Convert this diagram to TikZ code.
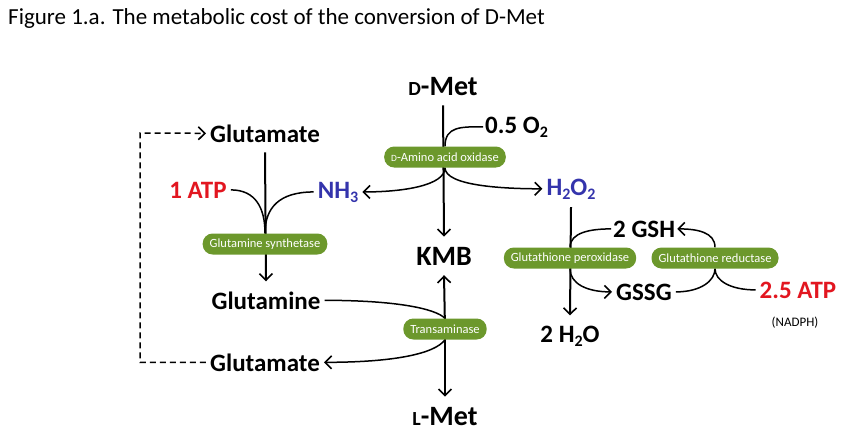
\documentclass[tikz,border=0pt]{standalone}
\usepackage{fontspec}
\setmainfont{Carlito}
\usetikzlibrary{arrows.meta, positioning, backgrounds}

\definecolor{enzgreen}{RGB}{108,152,44}
\definecolor{molblue}{RGB}{52,52,172}
\definecolor{atpred}{RGB}{226,22,32}

\newcommand{\lowsub}[1]{\raisebox{-4pt}{\fontsize{16}{16}\selectfont #1}}

\tikzset{
  mol/.style={font=\fontsize{25}{25}\selectfont\bfseries, inner xsep=4pt, inner ysep=10pt},
  bigmol/.style={mol, font=\fontsize{28}{28}\selectfont\bfseries},
  enz/.style={fill=enzgreen, text=white, rounded corners=10pt, minimum height=21pt,
    inner xsep=7pt, inner ysep=0pt, font=\fontsize{12.5}{12.5}\selectfont},
  rxn/.style={line width=2pt},
  side/.style={line width=1.5pt},
  tip/.style={-{Straight Barb[length=6.5pt,width=13pt,line width=1.6pt]}},
  recycle/.style={line width=1.5pt, dash pattern=on 6pt off 4pt}
}

\begin{document}
\begin{tikzpicture}[x=1pt,y=-1pt]
			\useasboundingbox (0,0) rectangle (845,431);
			\node[anchor=base west, inner sep=0pt, font=\fontsize{23}{23}\selectfont] (title) at (8,24)
				{Figure 1.a. The metabolic cost of the conversion of D-Met};

			% main route
			\node[bigmol, anchor=base] (dmet) at (443,95) {{\fontsize{20}{20}\selectfont D}-Met};
			\node[bigmol, anchor=base] (kmb) at (444,265) {KMB};
			\node[bigmol, anchor=base] (lmet) at (445,425) {{\fontsize{20}{20}\selectfont L}-Met};
			\node[enz] (daao) at (445,157) {{\fontsize{9.5}{9.5}\selectfont D}-Amino acid oxidase};
			\node[enz] (transam) at (445,329) {Transaminase};
			\node[mol, anchor=base west, inner xsep=2pt, inner ysep=0pt] (otwo) at (483,133) {0.5 O\lowsub{2}};
			\node[mol, anchor=base, inner ysep=0pt, text=molblue] (nhthree) at (338,198) {NH\lowsub{3}};
			\node[mol, anchor=base, inner ysep=8pt, text=molblue] (hoo) at (571,195) {H\lowsub{2}O\lowsub{2}};

			% glutamine cycle
			\node[mol, anchor=base] (gluin) at (265,142) {Glutamate};
			\node[mol, anchor=base, inner ysep=2pt, text=atpred] (atpone) at (198,198) {1 ATP};
			\node[enz] (glnsyn) at (265,244) {Glutamine synthetase};
			\node[mol, anchor=base] (gln) at (266,309) {Glutamine};
			\node[mol, anchor=base] (gluout) at (265,371) {Glutamate};
			\coordinate (loop) at (140,133);

			% glutathione
			\node[enz] (gpx) at (570,258) {Glutathione peroxidase};
			\node[enz] (gr) at (715,258) {Glutathione reductase};
			\node[mol, anchor=base west, inner xsep=2pt, inner ysep=2pt] (gsh) at (611,237) {2 GSH};
			\node[mol, anchor=base west, inner ysep=2pt] (gssg) at (612,300) {GSSG};
			\node[mol, anchor=base, text=atpred] (atptwo) at (798,298) {2.5 ATP};
			\node[anchor=base, inner sep=0pt, font=\fontsize{13}{13}\selectfont] (nadph) at (795,326) {(NADPH)};
			\node[mol, anchor=base] (water) at (570,342) {2 H\lowsub{2}O};

			\begin{scope}[on background layer]
				\draw[rxn, tip] (dmet.south) -- (kmb.north);
				\draw[side] (daao.north) .. controls +(0,-20) and +(-22,0) .. (otwo.west);
				\draw[side, tip] (daao.south) .. controls +(0,18) and +(40,0) .. (nhthree.east);
				\draw[side, tip] (daao.south) .. controls +(0,18) and +(-40,0) .. (hoo.west);
				\draw[rxn, tip] (transam.center) -- (kmb.south);
				\draw[rxn, tip] (transam.center) -- (lmet.north);
				\draw[side] (gln.east) .. controls +(70,0) and +(-10,-10) .. (transam.north);
				\draw[side, tip] (transam.south) .. controls +(-10,14) and +(70,0) .. (gluout.east);

				\draw[rxn, tip] (gluin.south) -- (gln.north);
				\draw[side] (atpone.east) .. controls +(25,0) and +(0,-25) .. (glnsyn.north);
				\draw[side] (nhthree.west) .. controls +(-35,0) and +(0,-25) .. (glnsyn.north);
				\draw[recycle, tip] (gluout.west) -| (loop) -- (gluin.west);

				\draw[rxn, tip] (hoo.south) -- (water.north);
				\draw[side] (gpx.north) .. controls +(0,-15) and +(-20,0) .. (gsh.west);
				\draw[side, tip] (gpx.south) .. controls +(0,15) and +(-25,0) .. (gssg.west);
				\draw[side, tip] (gr.north) .. controls +(0,-15) and +(20,0) .. (gsh.east);
				\draw[side] (gssg.east) .. controls +(25,0) and +(0,12) .. (gr.south);
				\draw[side] (gr.south) .. controls +(0,12) and +(-25,0) .. (atptwo.west);
			\end{scope}
		\end{tikzpicture}
\end{document}
